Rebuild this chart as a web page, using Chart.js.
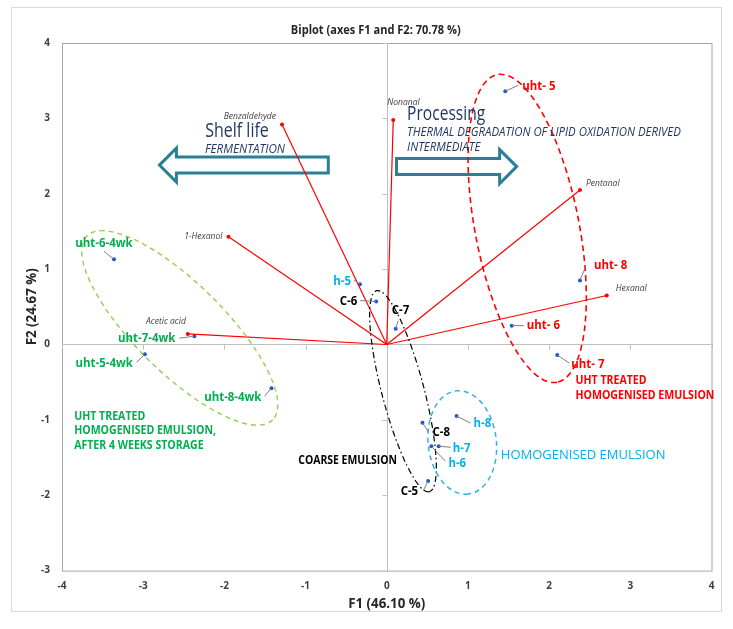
<!DOCTYPE html>
<html>
<head>
<meta charset="utf-8">
<script src="https://cdn.jsdelivr.net/npm/chart.js@4.4.1/dist/chart.umd.min.js"></script>
<style>
  html, body { margin: 0; padding: 0; background: #fff; }
  canvas { display: block; }
</style>
</head>
<body>
<canvas id="biplot" width="733" height="629"></canvas>
<script>
// observations (F1, F2 scores)
const obsNames = ['uht- 5', 'uht- 6', 'uht- 7', 'uht- 8',
    'uht-5-4wk', 'uht-6-4wk', 'uht-7-4wk', 'uht-8-4wk',
    'h-5', 'h-6', 'h-7', 'h-8', 'C-5', 'C-6', 'C-7', 'C-8'];
const obsF1 = [1.46, 1.54, 2.10, 2.38, -2.98, -3.36, -2.37, -1.42, -0.33, 0.55, 0.64, 0.86, 0.51, -0.13, 0.11, 0.44];
const obsF2 = [3.36, 0.25, -0.14, 0.85, -0.13, 1.13, 0.11, -0.58, 0.80, -1.35, -1.35, -0.95, -1.81, 0.57, 0.21, -1.04];
const obsGroup = ['uht', 'uht', 'uht', 'uht', 'wk', 'wk', 'wk', 'wk', 'h', 'h', 'h', 'h', 'c', 'c', 'c', 'c'];

// variables (loadings)
const varNames = ['Benzaldehyde', 'Nonanal', '1-Hexanol', 'Acetic acid', 'Pentanal', 'Hexanal'];
const varF1 = [-1.29, 0.08, -1.95, -2.45, 2.38, 2.71];
const varF2 = [2.92, 2.98, 1.43, 0.14, 2.05, 0.65];

// axes
const xTicks = [-4, -3, -2, -1, 0, 1, 2, 3, 4];
const yTicks = [-3, -2, -1, 0, 1, 2, 3, 4];

// group regions: centre (F1, F2), semi axes in F1 units, angle in degrees
const regionGroup = ['wk', 'uht', 'c', 'h'];
const regionCx = [-2.55, 1.73, 0.20, 0.93];
const regionCy = [0.22, 1.54, -0.62, -1.30];
const regionA = [1.61, 1.93, 1.28, 0.64];
const regionB = [0.55, 0.64, 0.26, 0.42];
const regionAngle = [44.7, 79, 75.3, 83.4];

const groupColor = { uht: '#FF0000', wk: '#00B050', h: '#00B0F0', c: '#000000' };
const regionStyle = {
    uht: { color: '#FF0000', dash: [6, 4], width: 1.6 },
    wk: { color: '#92D050', dash: [5, 4], width: 1.4 },
    h: { color: '#2CB5E0', dash: [5, 4], width: 1.5 },
    c: { color: '#000000', dash: [6, 3, 1.5, 3], width: 1.2 }
};

// label placement relative to the dot (px): text dx, dy, align, leader end
const obsLabelPos = [
    [17, -5, 'left', 13, -6], [15, 0, 'left', 12, 0], [14, 9, 'left', 12, 8], [14, -15, 'left', 5, -12],
    [-12, 9, 'right', -8, 8], [-10, -16, 'center', -10, -8], [-19, 2, 'right', -15, 2], [-10, 9, 'right', -7, 8],
    [-9, -3, 'right', -6, -4], [17, 17, 'left', 14, 15], [14, 2, 'left', 12, 1], [17, 7, 'left', 14, 7],
    [-10, 10, 'right', -5, 10], [-19, 0, 'right', -16, -1], [-4, -18, 'left', 2.5, -8], [10, 9, 'left', 6, 9]
];
const varLabelPos = [[-6, -8, 'right'], [-6, -17, 'left'], [-6, 0, 'right'], [-2, -12, 'right'], [6, -7, 'left'], [9, -7, 'left']];

// arrows: tail F1, tip F1, F2
const arrowTail = [-0.72, 0.12];
const arrowTip = [-2.80, 1.60];
const arrowF2 = [2.38, 2.36];

const FONT = "'Open Sans', 'DejaVu Sans', sans-serif";
const NAVY = '#203864';

function txt(ctx, s, x, y, font, color, align, squeeze) {
    ctx.font = font;
    ctx.fillStyle = color;
    ctx.textAlign = align;
    ctx.textBaseline = 'middle';
    const w = ctx.measureText(s).width;
    ctx.fillText(s, x, y, w * squeeze);
}

const decor = {
    id: 'decor',
    beforeDraw(chart) {
        const { ctx } = chart;
        ctx.save();
        ctx.fillStyle = '#fff';
        ctx.fillRect(0, 0, chart.width, chart.height);
        ctx.strokeStyle = '#D9D9D9';
        ctx.lineWidth = 1;
        ctx.strokeRect(11.5, 7.5, 710, 604);
        ctx.restore();
    },
    beforeDatasetsDraw(chart) {
        const { ctx, chartArea: a, scales: { x, y } } = chart;
        ctx.save();
        // plot frame
        ctx.strokeStyle = '#A6A6A6';
        ctx.lineWidth = 1;
        ctx.strokeRect(a.left + 0.5, a.top + 0.5, a.right - a.left, a.bottom - a.top);
        // zero lines with tick marks
        const x0 = Math.round(x.getPixelForValue(0)) + 0.5;
        const y0 = Math.round(y.getPixelForValue(0)) + 0.5;
        ctx.strokeStyle = '#BFBFBF';
        ctx.beginPath();
        ctx.moveTo(x0, a.top); ctx.lineTo(x0, a.bottom);
        ctx.moveTo(a.left, y0); ctx.lineTo(a.right, y0);
        xTicks.forEach(t => {
            const px = Math.round(x.getPixelForValue(t)) + 0.5;
            ctx.moveTo(px, y0); ctx.lineTo(px, y0 + 5);
        });
        yTicks.forEach(t => {
            const py = Math.round(y.getPixelForValue(t)) + 0.5;
            ctx.moveTo(x0 - 5, py); ctx.lineTo(x0, py);
        });
        ctx.stroke();

        // block arrows
        ctx.strokeStyle = '#2B7F95';
        ctx.fillStyle = '#fff';
        ctx.lineWidth = 3;
        ctx.lineJoin = 'miter';
        arrowTail.forEach((t, i) => {
            const tx = x.getPixelForValue(t);
            const hx = x.getPixelForValue(arrowTip[i]);
            const cy = y.getPixelForValue(arrowF2[i]);
            const dir = hx > tx ? 1 : -1;
            const bx = hx - dir * 17;
            ctx.beginPath();
            ctx.moveTo(tx, cy - 8);
            ctx.lineTo(bx, cy - 8);
            ctx.lineTo(bx, cy - 17);
            ctx.lineTo(hx, cy);
            ctx.lineTo(bx, cy + 17);
            ctx.lineTo(bx, cy + 8);
            ctx.lineTo(tx, cy + 8);
            ctx.closePath();
            ctx.fill();
            ctx.stroke();
        });
        ctx.restore();
    },
    afterDatasetsDraw(chart) {
        const { ctx, scales: { x, y } } = chart;
        const ppu = x.getPixelForValue(1) - x.getPixelForValue(0);
        ctx.save();
        // group ellipses
        regionGroup.forEach((g, i) => {
            const st = regionStyle[g];
            ctx.strokeStyle = st.color;
            ctx.lineWidth = st.width;
            ctx.setLineDash(st.dash);
            ctx.beginPath();
            ctx.ellipse(x.getPixelForValue(regionCx[i]), y.getPixelForValue(regionCy[i]),
                regionA[i] * ppu, regionB[i] * ppu, regionAngle[i] * Math.PI / 180, 0, Math.PI * 2);
            ctx.stroke();
        });
        ctx.setLineDash([]);

        // variable names
        varNames.forEach((n, i) => {
            const px = x.getPixelForValue(varF1[i]);
            const py = y.getPixelForValue(varF2[i]);
            const p = varLabelPos[i];
            txt(ctx, n, px + p[0], py + p[1], 'italic 9px ' + FONT, '#404040', p[2], 0.95);
        });

        // observation labels and leader lines
        obsNames.forEach((n, i) => {
            const px = x.getPixelForValue(obsF1[i]);
            const py = y.getPixelForValue(obsF2[i]);
            const p = obsLabelPos[i];
            ctx.strokeStyle = '#7F7F7F';
            ctx.lineWidth = 1;
            ctx.beginPath();
            ctx.moveTo(px, py);
            ctx.lineTo(px + p[3], py + p[4]);
            ctx.stroke();
            txt(ctx, n, px + p[0], py + p[1], 'bold 13px ' + FONT, groupColor[obsGroup[i]], p[2], 0.88);
        });

        // group captions
        const gx = (v) => x.getPixelForValue(v);
        const gy = (v) => y.getPixelForValue(v);
        txt(ctx, 'UHT TREATED', gx(2.325), gy(-0.478), 'bold 12px ' + FONT, '#FF0000', 'left', 0.88);
        txt(ctx, 'HOMOGENISED EMULSION', gx(2.325), gy(-0.478) + 15, 'bold 12px ' + FONT, '#FF0000', 'left', 0.88);
        txt(ctx, 'UHT TREATED', gx(-3.85), gy(-0.95), 'bold 12px ' + FONT, '#00B050', 'left', 0.88);
        txt(ctx, 'HOMOGENISED EMULSION,', gx(-3.85), gy(-0.95) + 14.5, 'bold 12px ' + FONT, '#00B050', 'left', 0.88);
        txt(ctx, 'AFTER 4 WEEKS STORAGE', gx(-3.85), gy(-0.95) + 29, 'bold 12px ' + FONT, '#00B050', 'left', 0.88);
        txt(ctx, 'COARSE EMULSION', gx(-1.09), gy(-1.546), 'bold 12px ' + FONT, '#000000', 'left', 0.87);
        txt(ctx, 'HOMOGENISED EMULSION', gx(1.405), gy(-1.47), '13px ' + FONT, '#00B0F0', 'left', 1);

        // arrow captions
        txt(ctx, 'Shelf life', gx(-2.236), gy(2.823), '20px ' + FONT, NAVY, 'left', 0.8);
        txt(ctx, 'FERMENTATION', gx(-2.239), gy(2.58), 'italic 12px ' + FONT, NAVY, 'left', 0.97);
        txt(ctx, 'Processing', gx(0.25), gy(3.06), '20px ' + FONT, NAVY, 'left', 0.78);
        txt(ctx, 'THERMAL DEGRADATION OF LIPID OXIDATION DERIVED', gx(0.25), gy(2.81), 'italic 12px ' + FONT, NAVY, 'left', 0.95);
        txt(ctx, 'INTERMEDIATE', gx(0.25), gy(2.61), 'italic 12px ' + FONT, NAVY, 'left', 0.95);
        ctx.restore();
    },
    afterDraw(chart) {
        const { ctx, chartArea: a } = chart;
        ctx.save();
        const cx = (a.left + a.right) / 2;
        txt(ctx, 'Biplot (axes F1 and F2: 70.78 %)', cx - 11, 30, 'bold 13px ' + FONT, '#262626', 'center', 0.85);
        txt(ctx, 'F1 (46.10 %)', cx, 604, 'bold 14px ' + FONT, '#262626', 'center', 0.95);
        ctx.translate(32, (a.top + a.bottom) / 2);
        ctx.rotate(-Math.PI / 2);
        txt(ctx, 'F2 (24.67 %)', 0, 0, 'bold 14px ' + FONT, '#262626', 'center', 0.95);
        ctx.restore();
    }
};

const varDatasets = varNames.map((n, i) => ({
    label: n,
    type: 'line',
    data: [{ x: 0, y: 0 }, { x: varF1[i], y: varF2[i] }],
    borderColor: '#FF0000',
    backgroundColor: '#FF0000',
    borderWidth: 1.2,
    pointRadius: [0, 2],
    pointBorderWidth: 0,
    fill: false,
    showLine: true
}));

const obsDataset = {
    label: 'Observations',
    data: obsNames.map((n, i) => ({ x: obsF1[i], y: obsF2[i] })),
    backgroundColor: '#2050D8',
    borderWidth: 0,
    pointRadius: 2
};

new Chart(document.getElementById('biplot'), {
    type: 'scatter',
    data: { datasets: [...varDatasets, obsDataset] },
    plugins: [decor],
    options: {
        responsive: false,
        animation: false,
        devicePixelRatio: 1,
        layout: { padding: { top: 43, right: 21.5, bottom: 13.4, left: 0 } },
        plugins: { legend: { display: false }, tooltip: { enabled: false } },
        scales: {
            x: {
                type: 'linear',
                min: -4, max: 4,
                afterFit: (s) => { s.height = 45; },
                afterBuildTicks: (s) => { s.ticks = xTicks.map(v => ({ value: v })); },
                grid: { display: false, drawTicks: false },
                border: { display: false },
                ticks: { color: '#404040', padding: 10, font: { family: FONT, size: 10, weight: 'bold' } }
            },
            y: {
                type: 'linear',
                min: -3, max: 4,
                afterFit: (s) => { s.width = 62; },
                afterBuildTicks: (s) => { s.ticks = yTicks.map(v => ({ value: v })); },
                grid: { display: false, drawTicks: false },
                border: { display: false },
                ticks: { color: '#404040', padding: 12, font: { family: FONT, size: 10, weight: 'bold' } }
            }
        }
    }
});
</script>
</body>
</html>
